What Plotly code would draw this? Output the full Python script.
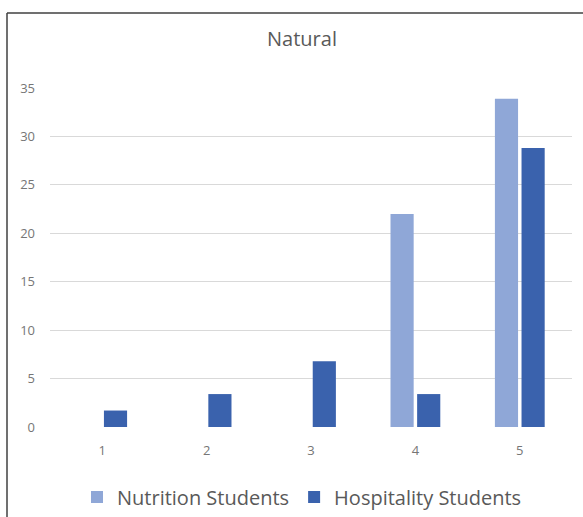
import plotly.graph_objects as go

# Response categories (rating scale) and percentage of each student group
categories = ["1", "2", "3", "4", "5"]
nutrition = [0, 0, 0, 22.0, 33.9]
hospitality = [1.7, 3.4, 6.8, 3.4, 28.8]
y_ticks = [0, 5, 10, 15, 20, 25, 30, 35]

W, H = 583, 517
L, R, T, B = 50, 11, 88, 90
pw, ph = W - L - R, H - T - B

def px_x(x):
    return (x - L) / pw

def px_y(y):
    return (H - B - y) / ph

font_family = "Open Sans, sans-serif"
grey = "#595959"

fig = go.Figure()
fig.add_trace(go.Bar(
    name="Nutrition Students", x=categories, y=nutrition,
    marker=dict(color="#8FA7D7", line=dict(width=0)),
))
fig.add_trace(go.Bar(
    name="Hospitality Students", x=categories, y=hospitality,
    marker=dict(color="#3A62AD", line=dict(width=0)),
))

fig.update_layout(
    width=W, height=H,
    margin=dict(l=L, r=R, t=T, b=B, autoexpand=False),
    paper_bgcolor="white", plot_bgcolor="white",
    barmode="group", bargap=0.49, bargroupgap=0.13,
    font=dict(family=font_family, color=grey),
    title=dict(text="Natural", x=302 / W, xanchor="center",
               xref="container", yref="container",
               y=1 - 39 / H, yanchor="middle",
               font=dict(size=20, color=grey)),
    showlegend=True,
    legend=dict(orientation="h", x=px_x(302), xanchor="center",
                y=px_y(497), yanchor="middle",
                font=dict(size=20, color=grey), itemwidth=30,
                traceorder="normal"),
    xaxis=dict(showgrid=False, showline=False, ticks="",
               tickfont=dict(size=13, color="#767676"),
               ticklabelstandoff=14),
    yaxis=dict(range=[0, 35], tickvals=y_ticks, showgrid=True,
               gridcolor="#D9D9D9", gridwidth=1, zeroline=False,
               showline=False, ticks="",
               tickfont=dict(size=13, color="#767676"),
               ticklabelstandoff=14),
    shapes=[
        # chart frame: left and top edges
        dict(type="line", xref="paper", yref="paper",
             x0=px_x(7), x1=px_x(7), y0=px_y(13), y1=px_y(H + 5),
             line=dict(color="#404040", width=1.5)),
        dict(type="line", xref="paper", yref="paper",
             x0=px_x(7), x1=px_x(W + 5), y0=px_y(13), y1=px_y(13),
             line=dict(color="#404040", width=1.5)),
    ],
)

fig.write_html("out.html")
